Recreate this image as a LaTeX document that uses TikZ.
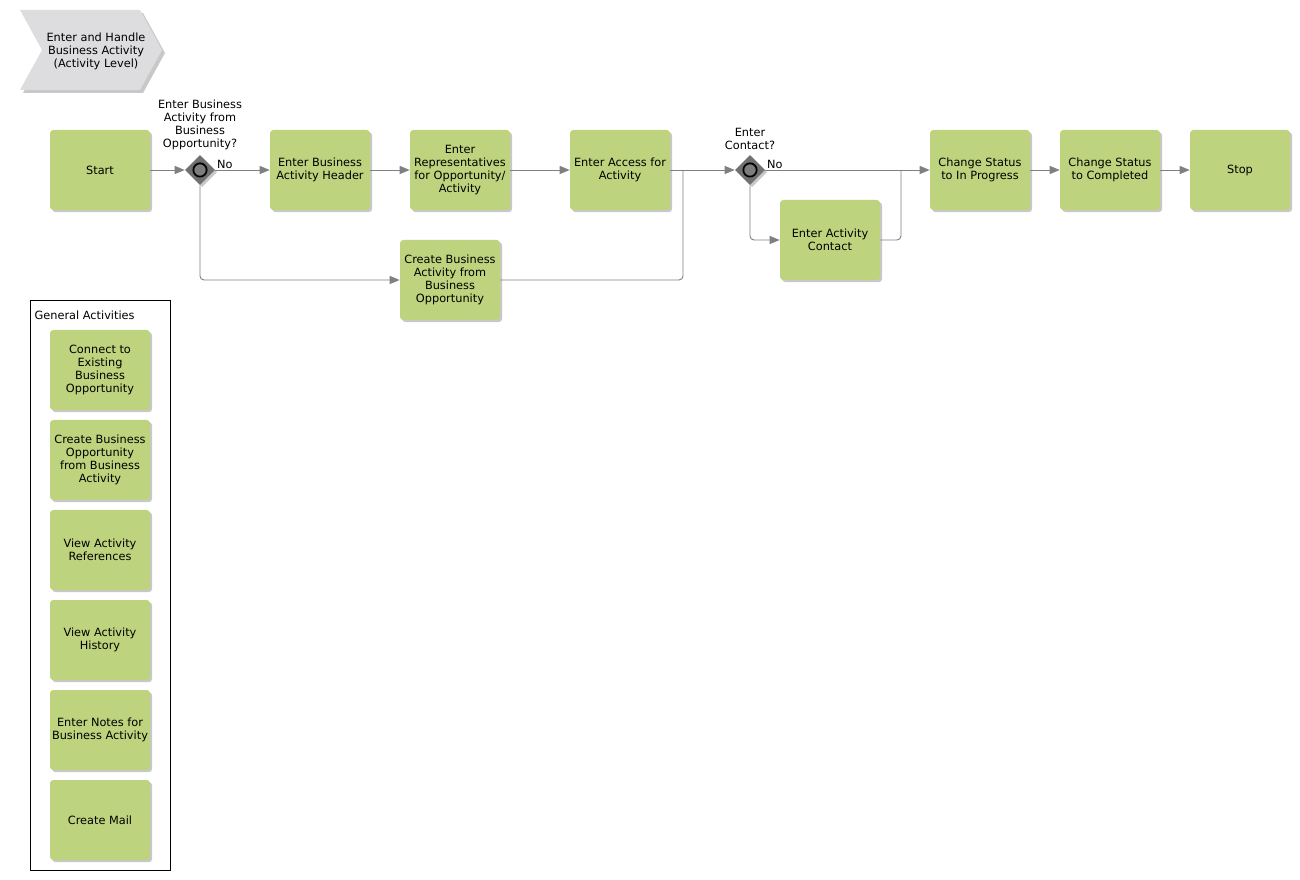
\documentclass[tikz,border=0pt]{standalone}
\usepackage{fontspec}
\setmainfont{DejaVu Sans}
\usepackage{tikz}
\usetikzlibrary{shapes.geometric, arrows.meta, positioning, shadows}
\definecolor{actgreen}{RGB}{190,211,125}
\definecolor{flowgray}{RGB}{128,128,128}
\definecolor{gatedark}{RGB}{112,112,112}
\definecolor{ringgray}{RGB}{125,125,125}
\definecolor{hdrgray}{RGB}{221,221,223}
\definecolor{shadegray}{RGB}{200,200,200}
\newcommand{\actfont}{\fontsize{8.5}{9.75}\selectfont}
\tikzset{
  activity/.style={rectangle, fill=actgreen, minimum width=75pt,
    minimum height=60pt, align=center, font=\actfont, inner sep=1pt,
    rounded corners=2.5pt,
    drop shadow={shadow xshift=1.6pt, shadow yshift=-1.6pt,
      fill=shadegray, opacity=1}},
  gateway/.style={diamond, fill=gatedark, minimum size=22.5pt, inner sep=0pt,
    drop shadow={shadow xshift=1.6pt, shadow yshift=-1.6pt,
      fill=shadegray, opacity=1},
    path picture={\draw[black, line width=1.3pt, fill=ringgray]
      (path picture bounding box.center) circle (5pt);}},
  gatelabel/.style={align=center, font=\actfont, inner sep=0pt},
  flowlabel/.style={font=\actfont, inner sep=1pt},
  poolbox/.style={rectangle, draw=black, line width=0.6pt, fill=white,
    minimum width=105pt, minimum height=427.5pt},
  flow/.style={-{Triangle[length=7.5pt, width=6pt]}, draw=flowgray,
    line width=0.7pt, rounded corners=3pt},
  line/.style={draw=flowgray, line width=0.7pt, rounded corners=3pt}
}

\begin{document}
\begin{tikzpicture}[x=0.75pt, y=-0.75pt]
  \useasboundingbox (0,0) rectangle (1300,880);

  % Process header
  \fill[shadegray] (23,13) -- (143,13) -- (165,53) -- (143,93) -- (23,93) -- (45,53) -- cycle;
  \fill[hdrgray] (20,10) -- (140,10) -- (162,50) -- (140,90) -- (20,90) -- (42,50) -- cycle;
  \node[gatelabel] (title) at (96,51) {Enter and Handle\\Business Activity\\(Activity Level)};

  % Main flow
  \node[activity] (start) at (100,170) {Start};
  \node[gateway] (gwA) at (200,170) {};
  \node[gatelabel, above=3.5pt of gwA] (gwAlbl) {Enter Business\\Activity from\\Business\\Opportunity?};
  \node[activity] (header) at (320,170) {Enter Business\\Activity Header};
  \node[activity] (reps) at (460,170) {Enter\\Representatives\\for Opportunity/\\Activity};
  \node[activity] (access) at (620,170) {Enter Access for\\Activity};
  \node[activity] (create) at (450,280) {Create Business\\Activity from\\Business\\Opportunity};
  \node[gateway] (gwB) at (750,170) {};
  \node[gatelabel, above=3.5pt of gwB] (gwBlbl) {Enter\\Contact?};
  \node[activity] (contact) at (830,240) {Enter Activity\\Contact};
  \node[activity] (progress) at (980,170) {Change Status\\to In Progress};
  \node[activity] (done) at (1110,170) {Change Status\\to Completed};
  \node[activity] (stop) at (1240,170) {Stop};

  \coordinate (joinA) at (683,170);
  \coordinate (joinB) at (901,170);

  % Connectors
  \draw[flow] (start) -- (gwA);
  \draw[flow] (gwA) -- node[flowlabel, above right, pos=0] {No} (header);
  \draw[flow] (gwA) |- (create);
  \draw[flow] (header) -- (reps);
  \draw[flow] (reps) -- (access);
  \draw[flow] (access) -- (gwB);
  \draw[line] (create) -| (joinA);
  \draw[flow] (gwB) -- node[flowlabel, above right, pos=0] {No} (progress);
  \draw[flow] (gwB) |- (contact);
  \draw[line] (contact) -| (joinB);
  \draw[flow] (progress) -- (done);
  \draw[flow] (done) -- (stop);

  % General activities
  \node[poolbox] (pool) at (100,585) {};
  \node[flowlabel, anchor=west] (poolname) at (33,315) {General Activities};
  \node[activity] (connect) at (100,370) {Connect to\\Existing\\Business\\Opportunity};
  \node[activity] (opport) at (100,460) {Create Business\\Opportunity\\from Business\\Activity};
  \node[activity] (refs) at (100,550) {View Activity\\References};
  \node[activity] (history) at (100,640) {View Activity\\History};
  \node[activity] (notes) at (100,730) {Enter Notes for\\Business Activity};
  \node[activity] (mail) at (100,820) {Create Mail};
\end{tikzpicture}
\end{document}
